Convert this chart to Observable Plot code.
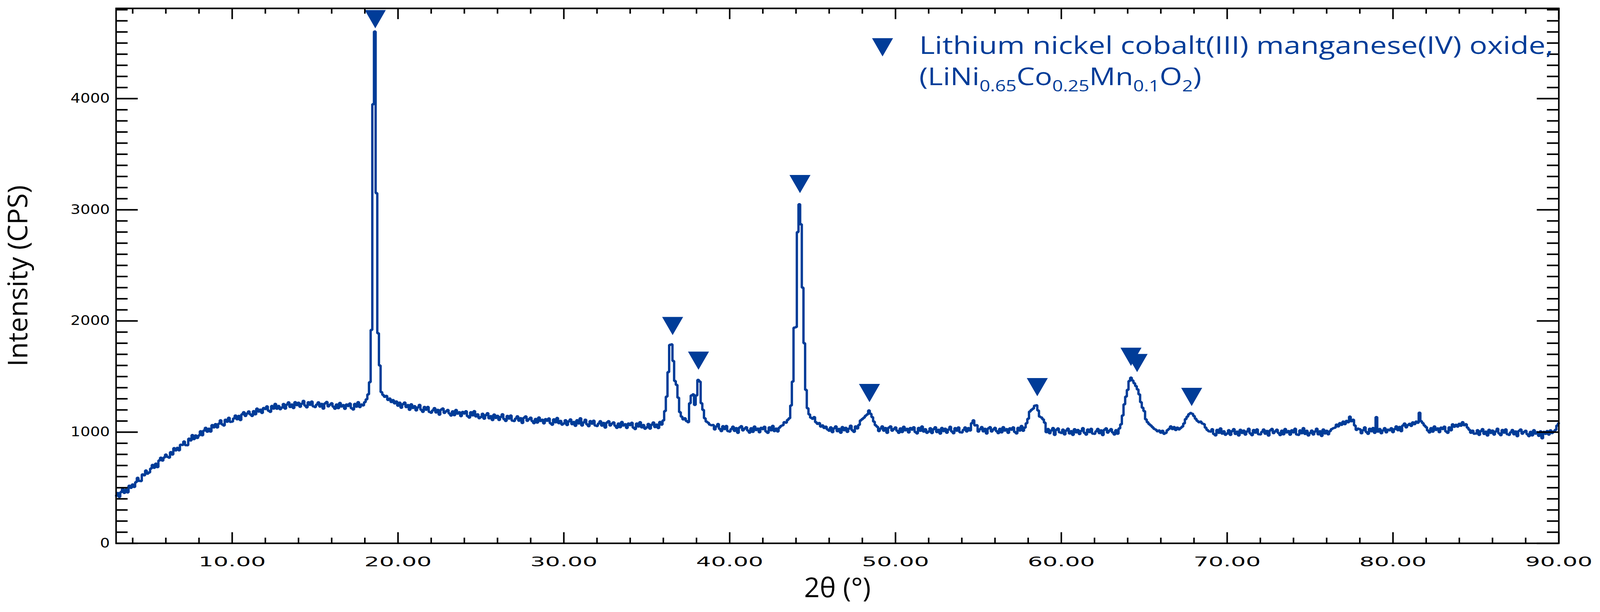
<!DOCTYPE html>
<html>
<head>
<meta charset="utf-8">
<script src="https://cdn.jsdelivr.net/npm/d3@7"></script>
<script src="https://cdn.jsdelivr.net/npm/@observablehq/plot@0.6"></script>
<style>
html, body { margin: 0; padding: 0; background: #fff; overflow: hidden; }
svg { display: block; }
</style>
</head>
<body>
<div id="chart"></div>
<script>
// ---- data ----
const scanStart = 3.0;   // first 2θ of the scan
const scanStep = 0.1;    // 2θ step of the sampled scan
const intensity = [
  428, 452, 418, 461, 488, 454, 483, 458, 518, 499,
  529, 507, 550, 589, 562, 560, 620, 612, 655, 627,
  637, 672, 705, 679, 716, 686, 745, 770, 744, 772,
  798, 778, 771, 820, 799, 856, 836, 859, 837, 887,
  885, 916, 883, 882, 941, 925, 974, 938, 970, 948,
  970, 1008, 972, 1014, 1039, 1004, 1031, 1005, 1063, 1043,
  1072, 1042, 1076, 1106, 1070, 1060, 1112, 1094, 1129, 1092,
  1095, 1123, 1149, 1116, 1146, 1109, 1161, 1179, 1146, 1167,
  1186, 1160, 1146, 1189, 1161, 1212, 1185, 1202, 1173, 1217,
  1208, 1232, 1192, 1183, 1235, 1212, 1254, 1211, 1235, 1206,
  1221, 1253, 1212, 1248, 1268, 1227, 1249, 1217, 1270, 1243,
  1264, 1228, 1256, 1281, 1239, 1223, 1269, 1246, 1275, 1232,
  1226, 1248, 1268, 1230, 1254, 1212, 1258, 1271, 1232, 1247,
  1260, 1229, 1211, 1249, 1216, 1263, 1231, 1243, 1210, 1249,
  1235, 1257, 1215, 1204, 1254, 1229, 1270, 1226, 1249, 1241,
  1270, 1295, 1340, 1450, 1920, 3950, 4604, 3150, 1890, 1600,
  1360, 1335, 1318, 1326, 1290, 1302, 1271, 1288, 1259, 1276,
  1238, 1265, 1220, 1251, 1266, 1226, 1243, 1201, 1250, 1218,
  1234, 1196, 1222, 1245, 1201, 1183, 1227, 1202, 1227, 1182,
  1175, 1196, 1216, 1177, 1200, 1157, 1202, 1213, 1173, 1187,
  1199, 1168, 1149, 1187, 1153, 1199, 1167, 1179, 1144, 1182,
  1168, 1188, 1144, 1131, 1179, 1151, 1189, 1141, 1160, 1126,
  1136, 1165, 1121, 1153, 1170, 1125, 1144, 1109, 1158, 1128,
  1147, 1110, 1137, 1161, 1118, 1101, 1146, 1122, 1149, 1104,
  1100, 1122, 1142, 1103, 1126, 1083, 1129, 1141, 1102, 1117,
  1130, 1099, 1081, 1119, 1086, 1132, 1101, 1112, 1079, 1117,
  1103, 1123, 1080, 1067, 1115, 1089, 1127, 1081, 1101, 1068,
  1078, 1107, 1064, 1097, 1114, 1072, 1091, 1057, 1107, 1078,
  1125, 1060, 1088, 1112, 1070, 1054, 1099, 1076, 1103, 1060,
  1055, 1077, 1098, 1059, 1083, 1041, 1086, 1098, 1060, 1076,
  1088, 1057, 1039, 1077, 1045, 1091, 1060, 1071, 1038, 1077,
  1063, 1084, 1040, 1028, 1077, 1051, 1090, 1043, 1064, 1031,
  1043, 1074, 1032, 1067, 1087, 1046, 1068, 1037, 1091, 1068,
  1105, 1190, 1320, 1540, 1785, 1790, 1640, 1460, 1425, 1310,
  1180, 1140, 1115, 1125, 1100, 1090, 1260, 1330, 1340, 1245,
  1330, 1470, 1455, 1260, 1200, 1125, 1095, 1085, 1068, 1062,
  1064, 1025, 1051, 1073, 1029, 1010, 1054, 1028, 1055, 1010,
  1005, 1028, 1049, 1011, 1036, 994, 1041, 1054, 1016, 1032,
  1044, 1014, 996, 1035, 1003, 1050, 1019, 1032, 999, 1039,
  1027, 1048, 1006, 994, 1043, 1017, 1056, 1010, 1032, 1006,
  1040, 1055, 1062, 1090, 1085, 1110, 1125, 1240, 1455, 1940,
  1945, 2800, 3050, 2870, 2300, 1800, 1380, 1215, 1160, 1130,
  1120, 1135, 1090, 1075, 1082, 1050, 1061, 1038, 1049, 1025,
  1013, 1043, 1000, 1034, 1052, 1009, 1029, 995, 1046, 1018,
  1039, 1003, 1032, 1058, 1017, 1003, 1052, 1033, 1065, 1105,
  1118, 1130, 1148, 1160, 1195, 1165, 1135, 1095, 1062, 1048,
  1010, 1032, 1052, 1013, 1037, 994, 1040, 1052, 1013, 1028,
  1042, 1012, 994, 1033, 1001, 1048, 1017, 1030, 997, 1037,
  1023, 1044, 1001, 989, 1038, 1012, 1051, 1005, 1026, 994,
  1005, 1035, 992, 1026, 1044, 1001, 1021, 987, 1038, 1010,
  1031, 995, 1023, 1048, 1006, 990, 1036, 1013, 1042, 999,
  997, 1020, 1042, 1006, 1036, 1015, 1081, 1106, 1061, 1062,
  1005, 1026, 1046, 1007, 1030, 988, 1033, 1045, 1006, 1024,
  1039, 1009, 991, 1030, 998, 1045, 1014, 1027, 994, 1034,
  1022, 1043, 1001, 989, 1039, 1014, 1055, 1012, 1040, 1080,
  1120, 1185, 1200, 1212, 1238, 1242, 1195, 1140, 1132, 1115,
  1085, 1000, 1028, 990, 1015, 1037, 975, 1020, 1033, 998,
  993, 1023, 980, 1014, 1032, 989, 1009, 975, 1026, 998,
  1019, 983, 1011, 1036, 994, 978, 1024, 1001, 1030, 987,
  985, 1008, 1029, 991, 1016, 974, 1021, 1034, 996, 1012,
  1027, 997, 979, 1018, 986, 1033, 1070, 1150, 1250, 1320,
  1380, 1460, 1490, 1465, 1440, 1415, 1385, 1340, 1270, 1220,
  1190, 1115, 1090, 1072, 1060, 1045, 1030, 1022, 1008, 1015,
  996, 1012, 985, 993, 1018, 1030, 1052, 1028, 1046, 1019,
  1040, 1025, 1038, 1050, 1078, 1118, 1140, 1162, 1172, 1165,
  1145, 1120, 1102, 1090, 1095, 1078, 1072, 1040, 1020, 1008,
  1005, 1026, 983, 971, 1020, 994, 1033, 987, 1008, 976,
  988, 1018, 975, 1009, 1027, 984, 1004, 970, 1021, 993,
  1014, 978, 1006, 1031, 989, 973, 1019, 996, 1025, 982,
  980, 1003, 1024, 986, 1011, 969, 1016, 1029, 991, 1007,
  1022, 992, 974, 1013, 981, 1028, 997, 1010, 977, 1017,
  998, 1031, 979, 975, 1016, 990, 1036, 984, 1012, 970,
  992, 1014, 979, 1005, 1031, 981, 1008, 966, 1024, 989,
  1012, 981, 1009, 1027, 1035, 1040, 1068, 1052, 1081, 1066,
  1095, 1072, 1101, 1089, 1140, 1098, 1112, 1060, 1020, 1032,
  1026, 990, 1018, 1043, 1001, 985, 1031, 1008, 1037, 994,
  1135, 1005, 1028, 990, 1015, 1036, 998, 1022, 1017, 1035,
  1000, 1027, 1052, 1018, 1047, 1009, 1060, 1077, 1043, 1063,
  1075, 1056, 1088, 1072, 1095, 1084, 1175, 1098, 1081, 1060,
  1045, 1015, 997, 1036, 1004, 1051, 1020, 1033, 1000, 1040,
  1028, 1049, 1006, 994, 1043, 1017, 1070, 1048, 1066, 1050,
  1075, 1058, 1090, 1062, 1071, 1040, 1022, 995, 1013, 986,
  988, 1018, 975, 1009, 1027, 984, 1004, 970, 1021, 993,
  1014, 978, 1006, 1031, 989, 973, 1019, 996, 1025, 982,
  975, 998, 1019, 981, 1006, 964, 1011, 1024, 986, 1002,
  1012, 982, 964, 1003, 971, 1018, 987, 1000, 967, 1007,
  945, 1003, 985, 1010, 978, 1016, 992, 1005, 1020, 1060,
  1080
];

// peak markers (▼) : 2θ and the intensity level at the marker centre
const markerTheta = [18.63, 36.56, 38.12, 44.24, 48.43, 58.55, 64.20, 64.57, 67.86];
const markerIntensity = [4742, 1982, 1670, 3259, 1379, 1432, 1705, 1649, 1344];

// axes
const xDomain = [3, 90];
const yDomain = [0, 4812];
const xMajorTicks = [10, 20, 30, 40, 50, 60, 70, 80, 90];
const yMajorTicks = [0, 1000, 2000, 3000, 4000];
const xMinorTicks = d3.range(4, 90, 2).filter(d => d % 10 !== 0);
const yMinorTicks = d3.range(100, 4801, 100).filter(d => d % 1000 !== 0);

// texts
const xTitle = "2θ (°)";
const yTitle = "Intensity (CPS)";
const legendLine1 = "Lithium nickel cobalt(III) manganese(IV) oxide,";
const legendLine2 = "(LiNi0.65Co0.25Mn0.1O2)";
const legendFormulaParts = [["(LiNi", false], ["0.65", true], ["Co", false], ["0.25", true], ["Mn", false], ["0.1", true], ["O", false], ["2", true], [")", false]];

// ---- layout / style ----
const W = 4100, H = 1567;
const mL = 297, mR = 106, mT = 21, mB = 175;
const frameW = W - mL - mR, frameH = H - mT - mB;
const blue = "#003c98";
const tickFont = "DejaVu Sans";
const textFont = "Open Sans";

const scan = intensity.map((v, i) => ({theta: +(scanStart + i * scanStep).toFixed(2), counts: v}));
const markers = markerTheta.map((t, i) => ({theta: t, counts: markerIntensity[i]}));

const triangleDown = {
  draw(context, size) {
    const y = Math.sqrt(size / (3 * Math.sqrt(3)));
    const x = Math.sqrt(3) * y;
    context.moveTo(0, 2 * y);
    context.lineTo(-x, -y);
    context.lineTo(x, -y);
    context.closePath();
  }
};

const chart = Plot.plot({
  width: W,
  height: H,
  marginLeft: mL,
  marginRight: mR,
  marginTop: mT,
  marginBottom: mB,
  x: {domain: xDomain},
  y: {domain: yDomain},
  style: {background: "#fff", color: "#000", overflow: "visible"},
  marks: [
    Plot.line(scan, {x: "theta", y: "counts", curve: "step", stroke: blue, strokeWidth: 6, strokeLinejoin: "miter"}),
    Plot.dot(markers, {x: "theta", y: "counts", symbol: triangleDown, r: 20, fill: blue, stroke: "none"}),
    // inward ticks: bottom & top
    Plot.tickX(xMinorTicks, {x: d => d, insetTop: frameH - 14, strokeWidth: 4}),
    Plot.tickX(xMajorTicks, {x: d => d, insetTop: frameH - 28, strokeWidth: 4}),
    Plot.tickX(xMinorTicks, {x: d => d, insetBottom: frameH - 14, strokeWidth: 4}),
    Plot.tickX(xMajorTicks, {x: d => d, insetBottom: frameH - 28, strokeWidth: 4}),
    // inward ticks: left & right
    Plot.tickY(yMinorTicks, {y: d => d, insetRight: frameW - 30, strokeWidth: 4}),
    Plot.tickY(yMajorTicks, {y: d => d, insetRight: frameW - 56, strokeWidth: 4}),
    Plot.tickY(yMinorTicks, {y: d => d, insetLeft: frameW - 30, strokeWidth: 4}),
    Plot.tickY(yMajorTicks, {y: d => d, insetLeft: frameW - 56, strokeWidth: 4}),
    Plot.frame({stroke: "#000", strokeWidth: 4}),
    Plot.axisX(xMajorTicks, {anchor: "bottom", tickSize: 0, tickPadding: 35, tickFormat: d3.format(".2f"), fontSize: 34, fontFamily: tickFont, label: null}),
    Plot.axisY(yMajorTicks, {anchor: "left", tickSize: 0, tickPadding: 16, tickFormat: d => String(d), fontSize: 33, fontFamily: tickFont, label: null}),
    Plot.text([xTitle], {text: d => d, frameAnchor: "bottom", dy: 138, textAnchor: "middle", lineAnchor: "bottom", fontSize: 70, fontFamily: textFont, fill: "#000"}),
    Plot.text([yTitle], {text: d => d, frameAnchor: "left", dx: -227, rotate: -90, textAnchor: "middle", lineAnchor: "bottom", fontSize: 70, fontFamily: textFont, fill: "#000"}),
    // legend (inside the frame, top right)
    Plot.dot([legendLine1], {frameAnchor: "top-left", dx: 1964, dy: 92, symbol: triangleDown, r: 20, fill: blue, stroke: "none"}),
    Plot.text([legendLine1], {text: d => d, frameAnchor: "top-left", dx: 2058, dy: 117, textAnchor: "start", lineAnchor: "bottom", fontSize: 62, fontFamily: textFont, fill: blue}),
    Plot.text([legendLine2], {text: d => d, frameAnchor: "top-left", dx: 2058, dy: 197, textAnchor: "start", lineAnchor: "bottom", fontSize: 62, fontFamily: textFont, fill: blue})
  ]
});

document.getElementById("chart").appendChild(chart);

// ---- text styling post-process (horizontal stretch as in the reference, subscripts) ----
function stretch(t, sx) {
  const tr = t.getAttribute("transform");
  if (tr) t.setAttribute("transform", tr + ` scale(${sx},1)`);
  else {
    const x = +(t.getAttribute("x") || 0);
    t.setAttribute("transform", `translate(${x},0) scale(${sx},1) translate(${-x},0)`);
  }
}
chart.querySelectorAll('g[aria-label="x-axis tick label"] text').forEach(t => stretch(t, 1.77));
chart.querySelectorAll('g[aria-label="y-axis tick label"] text').forEach(t => stretch(t, 1.2));
const NS = "http://www.w3.org/2000/svg";
chart.querySelectorAll("text").forEach(t => {
  if (t.textContent === legendLine1) stretch(t, 1.235);
  if (t.textContent === legendLine2) {
    t.textContent = "";
    let low = false;
    for (const [s, sub] of legendFormulaParts) {
      const ts = document.createElementNS(NS, "tspan");
      ts.textContent = s;
      if (sub) {
        ts.setAttribute("font-size", "40");
        if (!low) { ts.setAttribute("dy", "16"); low = true; }
      } else if (low) {
        ts.setAttribute("dy", "-16");
        low = false;
      }
      t.appendChild(ts);
    }
    stretch(t, 1.2);
  }
});
</script>
</body>
</html>
